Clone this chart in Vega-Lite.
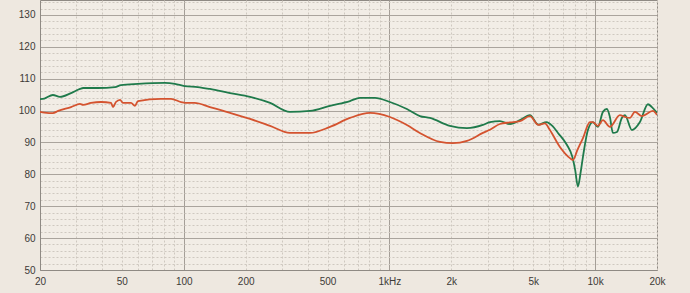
{
  "$schema": "https://vega.github.io/schema/vega-lite/v6.json",
  "autosize": "none",
  "width": 617,
  "height": 270,
  "padding": {"left": 40, "top": 0, "right": 33, "bottom": 23},
  "background": "#eee8e0",
  "config": {
    "view": {"fill": "#f2ede6", "stroke": "#8f8a84", "strokeWidth": 1},
    "axis": {"labelFont": "Liberation Sans", "labelFontSize": 10, "labelColor": "#3d3a37", "domainColor": "#8f8a84", "ticks": false, "title": null}
  },
  "datasets": {
    "fr": [
      {"f": 20, "db": 103.6, "s": "green"},
      {"f": 21, "db": 103.8, "s": "green"},
      {"f": 23.1, "db": 104.9, "s": "green"},
      {"f": 25, "db": 104.3, "s": "green"},
      {"f": 28.3, "db": 105.5, "s": "green"},
      {"f": 31.3, "db": 106.8, "s": "green"},
      {"f": 32.4, "db": 107.1, "s": "green"},
      {"f": 38.3, "db": 107.1, "s": "green"},
      {"f": 46.3, "db": 107.4, "s": "green"},
      {"f": 49.5, "db": 108.0, "s": "green"},
      {"f": 59.9, "db": 108.4, "s": "green"},
      {"f": 81, "db": 108.7, "s": "green"},
      {"f": 90.6, "db": 108.4, "s": "green"},
      {"f": 101, "db": 107.7, "s": "green"},
      {"f": 117, "db": 107.4, "s": "green"},
      {"f": 134, "db": 106.8, "s": "green"},
      {"f": 168, "db": 105.5, "s": "green"},
      {"f": 210, "db": 104.3, "s": "green"},
      {"f": 263, "db": 102.4, "s": "green"},
      {"f": 328, "db": 99.6, "s": "green"},
      {"f": 411, "db": 99.9, "s": "green"},
      {"f": 514, "db": 101.5, "s": "green"},
      {"f": 643, "db": 103.0, "s": "green"},
      {"f": 719, "db": 104.0, "s": "green"},
      {"f": 850, "db": 104.0, "s": "green"},
      {"f": 1006, "db": 102.7, "s": "green"},
      {"f": 1216, "db": 100.5, "s": "green"},
      {"f": 1406, "db": 98.3, "s": "green"},
      {"f": 1574, "db": 97.7, "s": "green"},
      {"f": 1968, "db": 95.2, "s": "green"},
      {"f": 2382, "db": 94.5, "s": "green"},
      {"f": 2848, "db": 95.5, "s": "green"},
      {"f": 3082, "db": 96.4, "s": "green"},
      {"f": 3444, "db": 96.7, "s": "green"},
      {"f": 3854, "db": 95.8, "s": "green"},
      {"f": 4312, "db": 97.0, "s": "green"},
      {"f": 4820, "db": 98.6, "s": "green"},
      {"f": 5300, "db": 95.6, "s": "green"},
      {"f": 5800, "db": 96.4, "s": "green"},
      {"f": 6200, "db": 95.2, "s": "green"},
      {"f": 6600, "db": 93.0, "s": "green"},
      {"f": 7300, "db": 89.2, "s": "green"},
      {"f": 7750, "db": 85.5, "s": "green"},
      {"f": 8000, "db": 81.4, "s": "green"},
      {"f": 8250, "db": 76.2, "s": "green"},
      {"f": 8500, "db": 80.5, "s": "green"},
      {"f": 8730, "db": 85.5, "s": "green"},
      {"f": 9228, "db": 93.9, "s": "green"},
      {"f": 9754, "db": 96.4, "s": "green"},
      {"f": 10322, "db": 94.9, "s": "green"},
      {"f": 10916, "db": 99.6, "s": "green"},
      {"f": 11416, "db": 100.5, "s": "green"},
      {"f": 11804, "db": 98.0, "s": "green"},
      {"f": 12208, "db": 93.0, "s": "green"},
      {"f": 12766, "db": 93.3, "s": "green"},
      {"f": 13490, "db": 97.7, "s": "green"},
      {"f": 13964, "db": 98.6, "s": "green"},
      {"f": 15100, "db": 93.9, "s": "green"},
      {"f": 16520, "db": 96.4, "s": "green"},
      {"f": 18064, "db": 102.0, "s": "green"},
      {"f": 18892, "db": 101.1, "s": "green"},
      {"f": 20000, "db": 99.3, "s": "green"},
      {"f": 20, "db": 99.6, "s": "red"},
      {"f": 21, "db": 99.4, "s": "red"},
      {"f": 23.1, "db": 99.2, "s": "red"},
      {"f": 24.5, "db": 99.9, "s": "red"},
      {"f": 28.3, "db": 101.1, "s": "red"},
      {"f": 31.3, "db": 102.1, "s": "red"},
      {"f": 32.4, "db": 101.8, "s": "red"},
      {"f": 35.4, "db": 102.4, "s": "red"},
      {"f": 39.6, "db": 102.7, "s": "red"},
      {"f": 44.3, "db": 102.4, "s": "red"},
      {"f": 45.3, "db": 101.1, "s": "red"},
      {"f": 46.8, "db": 102.7, "s": "red"},
      {"f": 49.0, "db": 103.4, "s": "red"},
      {"f": 50.6, "db": 102.4, "s": "red"},
      {"f": 55.4, "db": 102.4, "s": "red"},
      {"f": 57.9, "db": 101.5, "s": "red"},
      {"f": 59.9, "db": 103.0, "s": "red"},
      {"f": 77.5, "db": 103.7, "s": "red"},
      {"f": 86.7, "db": 103.7, "s": "red"},
      {"f": 97, "db": 102.7, "s": "red"},
      {"f": 107, "db": 102.4, "s": "red"},
      {"f": 113, "db": 102.4, "s": "red"},
      {"f": 134, "db": 101.1, "s": "red"},
      {"f": 168, "db": 99.3, "s": "red"},
      {"f": 210, "db": 97.4, "s": "red"},
      {"f": 263, "db": 95.2, "s": "red"},
      {"f": 328, "db": 93.0, "s": "red"},
      {"f": 411, "db": 93.0, "s": "red"},
      {"f": 514, "db": 94.9, "s": "red"},
      {"f": 643, "db": 97.7, "s": "red"},
      {"f": 804, "db": 99.3, "s": "red"},
      {"f": 1006, "db": 98.0, "s": "red"},
      {"f": 1216, "db": 95.5, "s": "red"},
      {"f": 1406, "db": 93.0, "s": "red"},
      {"f": 1761, "db": 90.2, "s": "red"},
      {"f": 2036, "db": 89.8, "s": "red"},
      {"f": 2382, "db": 90.5, "s": "red"},
      {"f": 2848, "db": 93.0, "s": "red"},
      {"f": 3082, "db": 94.0, "s": "red"},
      {"f": 3444, "db": 95.8, "s": "red"},
      {"f": 3854, "db": 96.3, "s": "red"},
      {"f": 4312, "db": 96.7, "s": "red"},
      {"f": 4820, "db": 98.3, "s": "red"},
      {"f": 5300, "db": 95.5, "s": "red"},
      {"f": 5700, "db": 96.0, "s": "red"},
      {"f": 6028, "db": 93.9, "s": "red"},
      {"f": 6746, "db": 88.6, "s": "red"},
      {"f": 7546, "db": 85.1, "s": "red"},
      {"f": 7800, "db": 84.5, "s": "red"},
      {"f": 8200, "db": 87.6, "s": "red"},
      {"f": 8730, "db": 91.4, "s": "red"},
      {"f": 9440, "db": 96.4, "s": "red"},
      {"f": 9754, "db": 96.4, "s": "red"},
      {"f": 10322, "db": 95.2, "s": "red"},
      {"f": 10916, "db": 97.0, "s": "red"},
      {"f": 11804, "db": 94.9, "s": "red"},
      {"f": 13202, "db": 98.6, "s": "red"},
      {"f": 13964, "db": 98.0, "s": "red"},
      {"f": 14768, "db": 97.7, "s": "red"},
      {"f": 15616, "db": 99.6, "s": "red"},
      {"f": 16894, "db": 98.3, "s": "red"},
      {"f": 19110, "db": 99.9, "s": "red"},
      {"f": 20000, "db": 98.6, "s": "red"}
    ]
  },
  "data": {"name": "fr"},
  "mark": {"type": "line", "strokeWidth": 1.8, "clip": true, "interpolate": "monotone"},
  "encoding": {
    "x": {
      "field": "f", "type": "quantitative",
      "scale": {"type": "log", "domain": [20, 20000], "nice": false},
      "axis": {
        "values": [20,30,40,50,60,70,80,90,100,200,300,400,500,600,700,800,900,1000,2000,3000,4000,5000,6000,7000,8000,9000,10000,20000],
        "labelExpr": "datum.value==20?'20':datum.value==50?'50':datum.value==100?'100':datum.value==200?'200':datum.value==500?'500':datum.value==1000?'1kHz':datum.value==2000?'2k':datum.value==5000?'5k':datum.value==10000?'10k':datum.value==20000?'20k':''",
        "labelOverlap": false,
        "labelFlush": false,
        "labelPadding": 6,
        "grid": true,
        "gridColor": {"condition": {"test": "datum.value==100||datum.value==1000||datum.value==10000", "value": "#a49e97"}, "value": "#cfc8c0"},
        "gridDash": {"condition": {"test": "datum.value==100||datum.value==1000||datum.value==10000", "value": []}, "value": [2, 2]},
        "gridWidth": 1
      }
    },
    "y": {
      "field": "db", "type": "quantitative",
      "scale": {"domain": [50, 134.7], "nice": false, "zero": false},
      "axis": {
        "values": [50,52,54,56,58,60,62,64,66,68,70,72,74,76,78,80,82,84,86,88,90,92,94,96,98,100,102,104,106,108,110,112,114,116,118,120,122,124,126,128,130,132,134],
        "labelExpr": "datum.value % 10 === 0 ? datum.value : ''",
        "labelOverlap": false,
        "labelPadding": 5,
        "grid": true,
        "gridColor": {"condition": {"test": "datum.value % 10 === 0", "value": "#aaa49d"}, "value": "#cfc8c0"},
        "gridDash": {"condition": {"test": "datum.value % 10 === 0", "value": []}, "value": [2, 2]},
        "gridWidth": 1
      }
    },
    "color": {
      "field": "s", "type": "nominal",
      "scale": {"domain": ["green", "red"], "range": ["#1f7a4b", "#d4532f"]},
      "legend": null
    }
  }
}
